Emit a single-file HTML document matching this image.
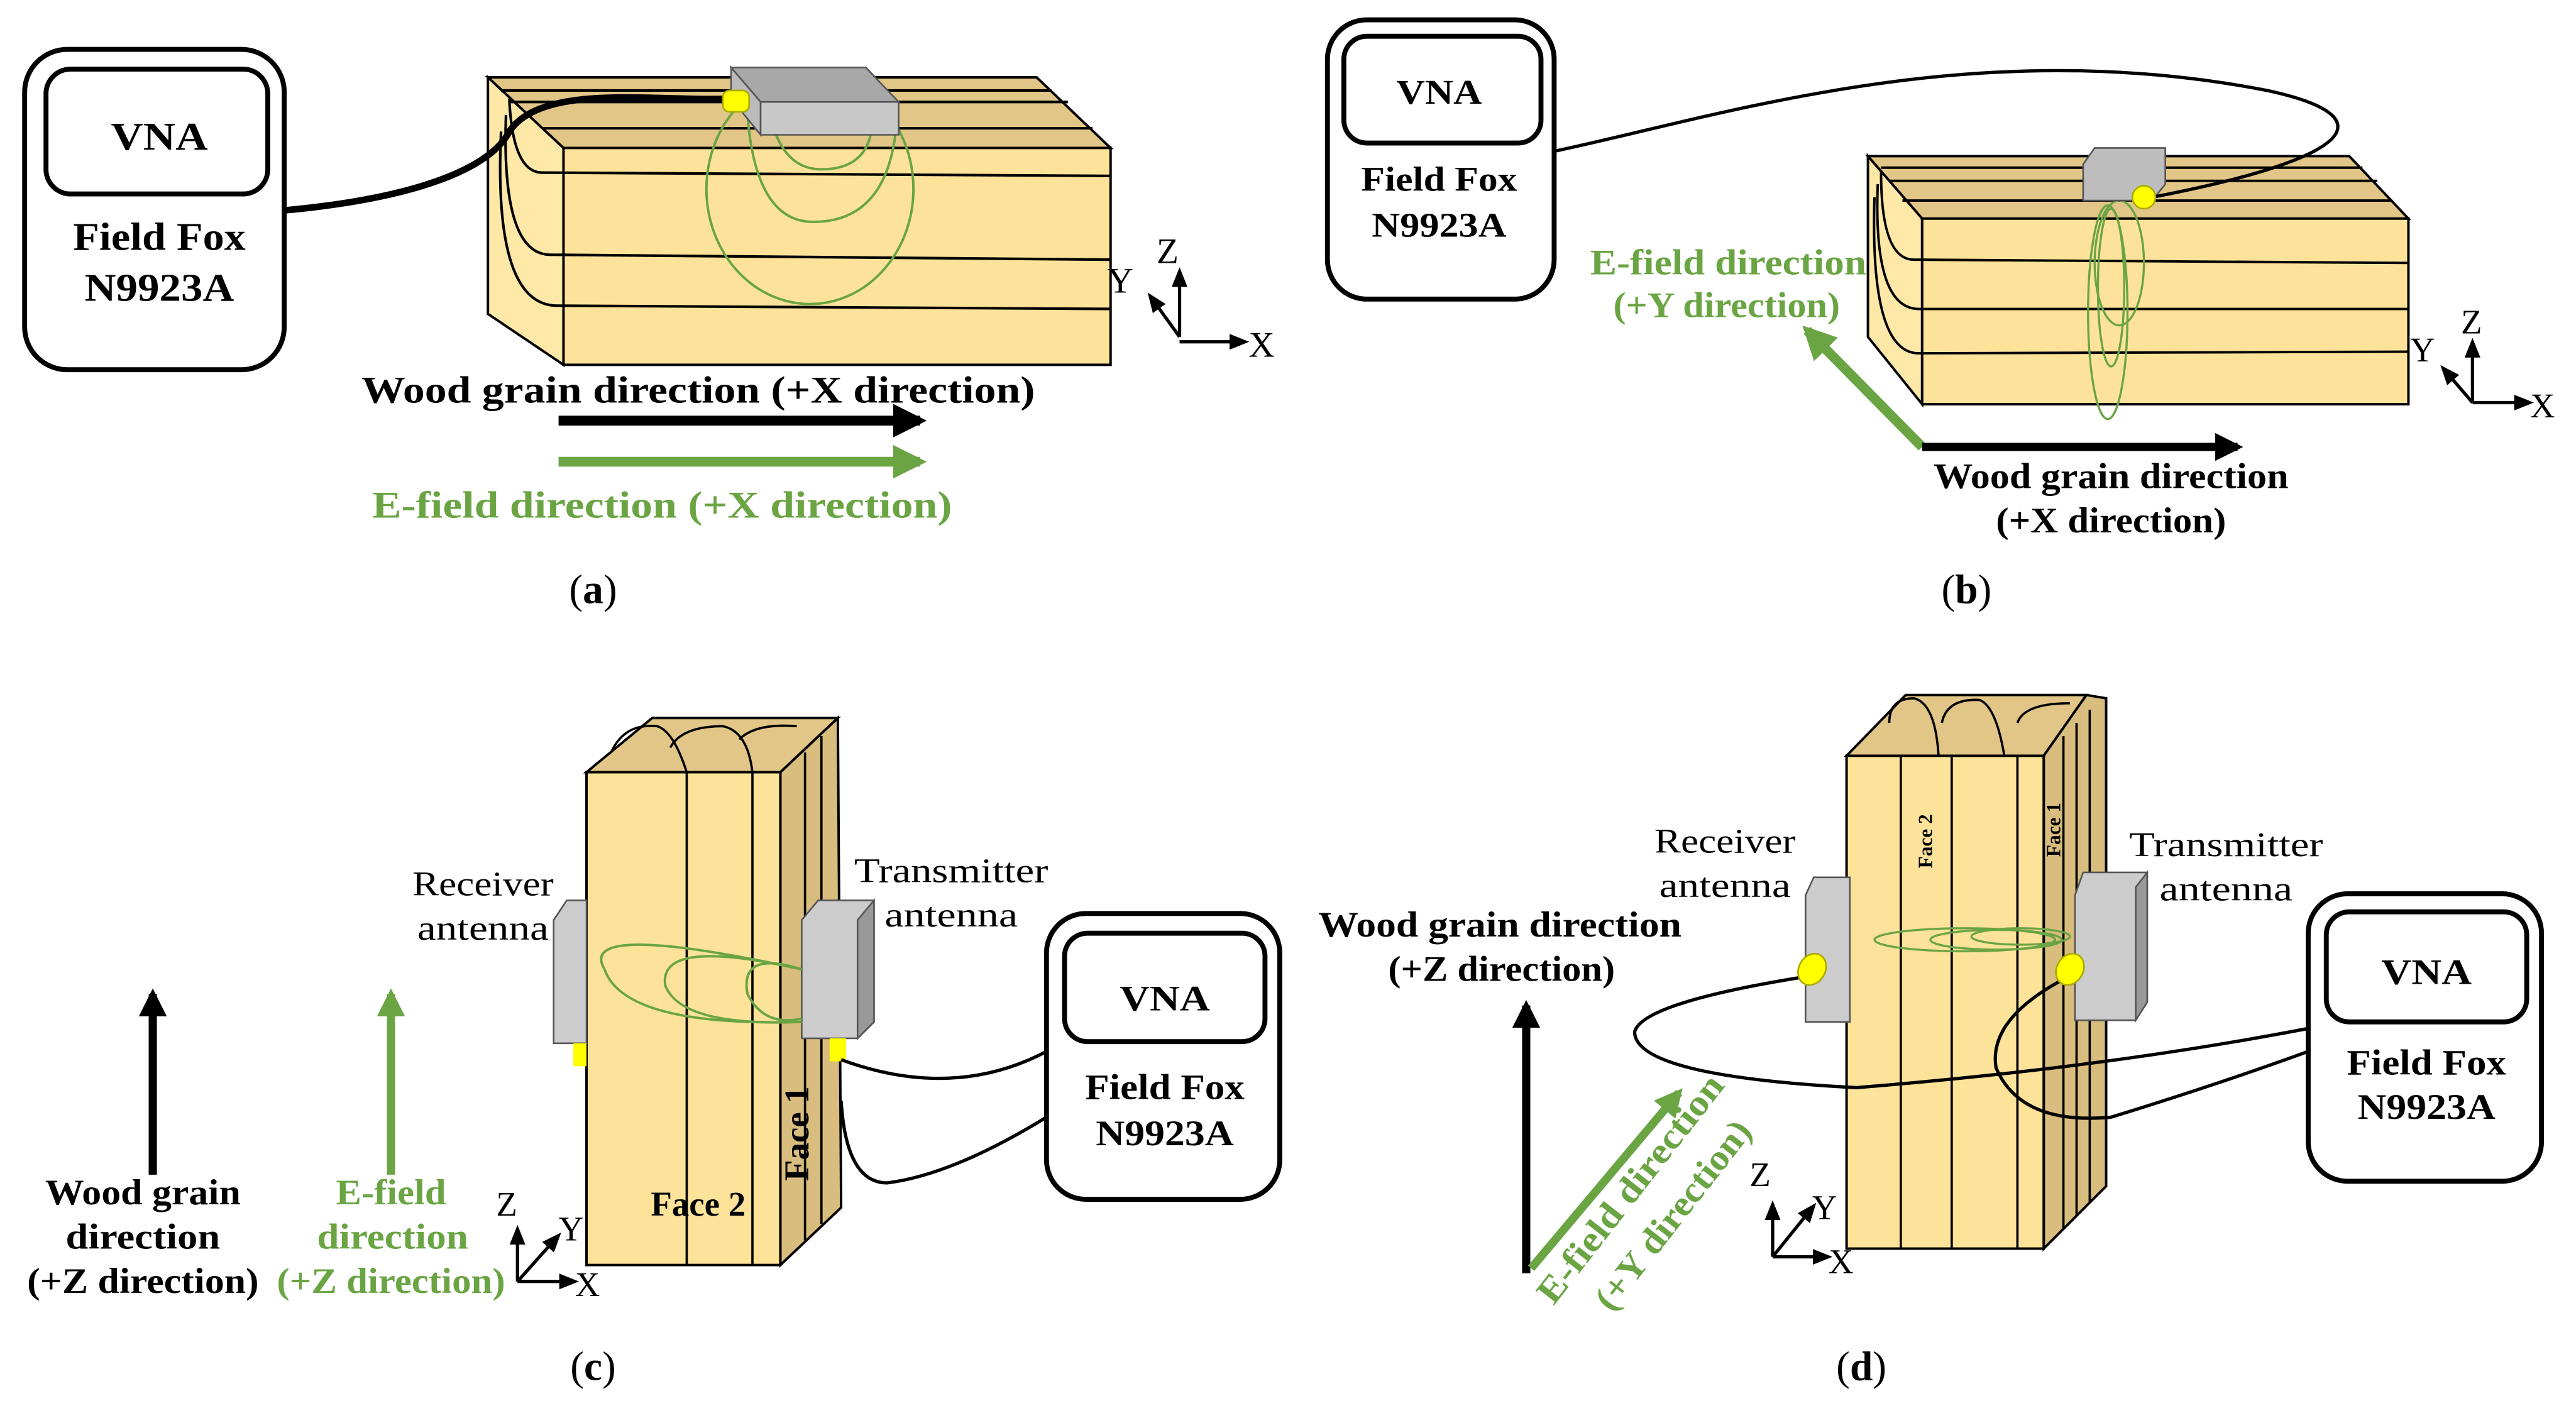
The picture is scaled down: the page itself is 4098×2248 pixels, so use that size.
<!DOCTYPE html>
<html><head><meta charset="utf-8"><style>html,body{margin:0;padding:0;background:#fff}svg{display:block}</style></head><body>
<svg width="4098" height="2248" viewBox="0 0 1568 860" xmlns="http://www.w3.org/2000/svg" font-family="Liberation Serif, serif">
<defs>
<marker id="ab" viewBox="0 0 10 10" refX="8" refY="5" markerWidth="3.4" markerHeight="3.4" orient="auto"><path d="M0,0L10,5L0,10z" fill="#000"/></marker>
<marker id="ag" viewBox="0 0 10 10" refX="8" refY="5" markerWidth="3.4" markerHeight="3.4" orient="auto"><path d="M0,0L10,5L0,10z" fill="#6aa443"/></marker>
<marker id="as" viewBox="0 0 10 10" refX="8" refY="5" markerWidth="6" markerHeight="6" orient="auto"><path d="M0,1L10,5L0,9z" fill="#000"/></marker>
</defs>
<g stroke="#000" stroke-width="3" fill="#fff">
<rect x="15" y="30" width="158" height="195" rx="26"/><rect x="28" y="42" width="135" height="76" rx="15"/>
<rect x="808" y="12" width="138" height="170" rx="24"/><rect x="818" y="22" width="120" height="65" rx="14"/>
<rect x="637" y="556" width="142" height="174" rx="24"/><rect x="648" y="568" width="122" height="66" rx="14"/>
<rect x="1405" y="544" width="142" height="175" rx="24"/><rect x="1416" y="555" width="122" height="67" rx="14"/>
</g>
<g font-weight="bold" font-size="24" text-anchor="middle" lengthAdjust="spacingAndGlyphs">
<text x="97" y="91" textLength="59" lengthAdjust="spacingAndGlyphs">VNA</text><text x="97" y="152" textLength="105" lengthAdjust="spacingAndGlyphs">Field Fox</text><text x="97" y="183" textLength="91" lengthAdjust="spacingAndGlyphs">N9923A</text>
<text x="876" y="63" font-size="21" textLength="52" lengthAdjust="spacingAndGlyphs">VNA</text><text x="876" y="116" font-size="21" textLength="95" lengthAdjust="spacingAndGlyphs">Field Fox</text><text x="876" y="144" font-size="21" textLength="82" lengthAdjust="spacingAndGlyphs">N9923A</text>
<text x="709" y="615" font-size="22" textLength="55" lengthAdjust="spacingAndGlyphs">VNA</text><text x="709" y="669" font-size="22" textLength="97" lengthAdjust="spacingAndGlyphs">Field Fox</text><text x="709" y="697" font-size="22" textLength="84" lengthAdjust="spacingAndGlyphs">N9923A</text>
<text x="1477" y="599" font-size="22" textLength="55" lengthAdjust="spacingAndGlyphs">VNA</text><text x="1477" y="654" font-size="22" textLength="97" lengthAdjust="spacingAndGlyphs">Field Fox</text><text x="1477" y="681" font-size="22" textLength="84" lengthAdjust="spacingAndGlyphs">N9923A</text>
</g>
<!-- panel a block -->
<g stroke="#000" stroke-width="1.5">
<polygon points="297,47 631,47 676,90 343,90" fill="#e2c687"/>
<polygon points="297,47 343,90 343,222 297,191" fill="#fde8a8"/>
<rect x="343" y="90" width="333" height="132" fill="#fde39a"/>
</g>
<g stroke="#000" stroke-width="1.6" fill="none">
<path d="M305,55 L640,55 M310,62 L650,62 M330,78 L665,78"/>
<path d="M310,60 Q312,105 330,105 L676,107"/><path d="M308,70 Q305,155 335,155 L676,158"/><path d="M305,80 Q300,187 340,186 L676,188"/>
</g>
<g stroke="#6aa443" stroke-width="1.5" fill="none">
<ellipse cx="493" cy="115" rx="63" ry="70"/><path d="M455,70 Q460,135 495,135 Q538,135 545,82"/><path d="M470,75 Q478,103 500,103 Q525,103 530,82"/>
</g>
<polygon points="445,41 527,41 547,62 463,62" fill="#a8a8a8" stroke="#555"/>
<polygon points="445,41 463,62 463,82 445,60" fill="#bbb" stroke="#555"/>
<polygon points="463,62 547,62 547,82 463,82" fill="#c8c8c8" stroke="#555"/>
<path d="M173,128 C260,120 300,100 310,80 C330,50 400,62 445,60" stroke="#000" stroke-width="4" fill="none"/>
<rect x="440" y="55" width="16" height="13" rx="4" fill="#ff0" stroke="#aa0"/>
<g stroke="#000" stroke-width="2" fill="none"><path d="M718,205 V165" marker-end="url(#as)"/><path d="M718,205 L700,180" marker-end="url(#as)"/><path d="M718,208 H758" marker-end="url(#as)"/></g>
<g font-size="22"><text x="674" y="178">Y</text><text x="704" y="160">Z</text><text x="760" y="217">X</text></g>
<text x="425" y="245" font-size="23" font-weight="bold" text-anchor="middle" textLength="410" lengthAdjust="spacingAndGlyphs">Wood grain direction (+X direction)</text>
<path d="M340,256 H560" stroke="#000" stroke-width="6" marker-end="url(#ab)"/>
<path d="M340,281 H560" stroke="#6aa443" stroke-width="6" marker-end="url(#ag)"/>
<text x="403" y="315" font-size="23" font-weight="bold" fill="#6aa443" text-anchor="middle" textLength="353" lengthAdjust="spacingAndGlyphs">E-field direction (+X direction)</text>
<text x="361" y="367" font-size="25" text-anchor="middle">(<tspan font-weight="bold">a</tspan>)</text>
<!-- panel b -->
<g stroke="#000" stroke-width="1.5">
<polygon points="1137,95 1430,95 1466,133 1170,133" fill="#e2c687"/>
<polygon points="1137,95 1170,133 1170,246 1137,205" fill="#fde8a8"/>
<rect x="1170" y="133" width="296" height="113" fill="#fde39a"/>
</g>
<g stroke="#000" stroke-width="1.5" fill="none">
<path d="M1145,102 H1438 M1150,110 H1447 M1158,122 H1456"/>
<path d="M1145,105 Q1145,158 1165,158 L1466,160"/><path d="M1143,112 Q1140,188 1168,188 L1466,188"/><path d="M1141,120 Q1138,215 1168,215 L1466,214"/>
</g>
<g stroke="#6aa443" stroke-width="1.3" fill="none"><ellipse cx="1283" cy="190" rx="12" ry="65"/><ellipse cx="1285" cy="175" rx="8" ry="48"/><ellipse cx="1290" cy="160" rx="15" ry="38"/></g>
<polygon points="1268,100 1275,90 1318,90 1318,112 1310,122 1268,122" fill="#bdbdbd" stroke="#555"/>
<path d="M946,92 C1050,70 1200,20 1380,55 C1450,70 1440,95 1310,120" stroke="#000" stroke-width="2" fill="none"/>
<circle cx="1305" cy="120" r="7" fill="#ff0" stroke="#aa0"/>
<path d="M1170,272 L1100,201" stroke="#6aa443" stroke-width="6" marker-end="url(#ag)"/>
<path d="M1170,272 H1362" stroke="#000" stroke-width="5" marker-end="url(#ab)"/>
<g font-size="22" font-weight="bold" text-anchor="middle" fill="#6aa443"><text x="1052" y="167" textLength="168" lengthAdjust="spacingAndGlyphs">E-field direction</text><text x="1051" y="193" textLength="138" lengthAdjust="spacingAndGlyphs">(+Y direction)</text></g>
<g font-size="22" font-weight="bold" text-anchor="middle"><text x="1285" y="297" textLength="216" lengthAdjust="spacingAndGlyphs">Wood grain direction</text><text x="1285" y="324" textLength="140" lengthAdjust="spacingAndGlyphs">(+X direction)</text></g>
<g stroke="#000" stroke-width="2" fill="none"><path d="M1505,245 V208" marker-end="url(#as)"/><path d="M1505,245 L1487,224" marker-end="url(#as)"/><path d="M1505,245 H1540" marker-end="url(#as)"/></g>
<g font-size="21"><text x="1467" y="220">Y</text><text x="1498" y="203">Z</text><text x="1540" y="254">X</text></g>
<text x="1197" y="367" font-size="25" text-anchor="middle">(<tspan font-weight="bold">b</tspan>)</text>
<!-- panel c -->
<g stroke="#000" stroke-width="1.5">
<polygon points="357,470 397,437 510,437 475,470" fill="#e2c687"/>
<polygon points="475,470 510,437 512,735 475,770" fill="#d9bd7e"/>
<rect x="357" y="470" width="118" height="300" fill="#fde39a"/>
</g>
<g stroke="#000" stroke-width="1.4" fill="none">
<path d="M418,470 V770 M458,470 V770 M490,458 V755 M500,448 V745"/>
<path d="M372,458 Q380,440 400,442 Q410,445 418,470"/><path d="M408,455 Q415,442 440,442 Q455,445 458,470"/><path d="M450,450 Q460,440 485,442"/>
</g>
<polygon points="337,560 345,548 357,548 357,635 337,635" fill="#ccc" stroke="#555"/>
<rect x="349" y="635" width="8" height="14" fill="#ff0"/>
<polygon points="488,560 498,548 532,548 532,622 522,632 488,632" fill="#ccc" stroke="#555"/>
<polygon points="522,560 532,548 532,622 522,632" fill="#999" stroke="#555"/>
<rect x="505" y="632" width="10" height="14" fill="#ff0"/>
<g stroke="#6aa443" stroke-width="1.5" fill="none"><path d="M488,590 Q350,560 368,590 Q380,625 488,622"/><path d="M488,590 Q400,570 405,600 Q415,625 488,622"/><path d="M488,590 Q450,578 455,605 Q465,625 488,620"/></g>
<path d="M512,645 Q580,670 637,640" stroke="#000" stroke-width="2" fill="none"/>
<path d="M512,670 Q515,720 540,720 Q580,715 637,680" stroke="#000" stroke-width="2" fill="none"/>
<text x="425" y="740" font-size="21" font-weight="bold" text-anchor="middle">Face 2</text>
<text transform="translate(492,690) rotate(-90)" font-size="21" font-weight="bold" text-anchor="middle">Face 1</text>
<g font-size="21" text-anchor="middle"><text x="294" y="545" textLength="86" lengthAdjust="spacingAndGlyphs">Receiver</text><text x="294" y="572" textLength="80" lengthAdjust="spacingAndGlyphs">antenna</text><text x="579" y="537" textLength="118" lengthAdjust="spacingAndGlyphs">Transmitter</text><text x="579" y="564" textLength="81" lengthAdjust="spacingAndGlyphs">antenna</text></g>
<path d="M93,715 V605" stroke="#000" stroke-width="5" marker-end="url(#ab)"/>
<path d="M238,715 V605" stroke="#6aa443" stroke-width="5" marker-end="url(#ag)"/>
<g font-size="22" font-weight="bold" text-anchor="middle"><text x="87" y="733" textLength="119" lengthAdjust="spacingAndGlyphs">Wood grain</text><text x="87" y="760" textLength="94" lengthAdjust="spacingAndGlyphs">direction</text><text x="87" y="787" textLength="141" lengthAdjust="spacingAndGlyphs">(+Z direction)</text></g>
<g font-size="22" font-weight="bold" text-anchor="middle" fill="#6aa443"><text x="238" y="733" textLength="67" lengthAdjust="spacingAndGlyphs">E-field</text><text x="239" y="760" textLength="92" lengthAdjust="spacingAndGlyphs">direction</text><text x="238" y="787" textLength="139" lengthAdjust="spacingAndGlyphs">(+Z direction)</text></g>
<g stroke="#000" stroke-width="2" fill="none"><path d="M315,780 V748" marker-end="url(#as)"/><path d="M315,780 L340,752" marker-end="url(#as)"/><path d="M315,780 H350" marker-end="url(#as)"/></g>
<g font-size="21"><text x="302" y="740">Z</text><text x="340" y="755">Y</text><text x="350" y="789">X</text></g>
<text x="361" y="840" font-size="25" text-anchor="middle">(<tspan font-weight="bold">c</tspan>)</text>
<!-- panel d -->
<g stroke="#000" stroke-width="1.5">
<polygon points="1124,460 1160,423 1270,423 1244,460" fill="#e2c687"/>
<polygon points="1244,460 1270,423 1282,425 1282,722 1244,760" fill="#d9bd7e"/>
<rect x="1124" y="460" width="120" height="300" fill="#fde39a"/>
</g>
<g stroke="#000" stroke-width="1.4" fill="none">
<path d="M1157,460 V760 M1188,460 V760 M1228,460 V760 M1256,448 V748 M1264,440 V740 M1272,432 V732"/>
<path d="M1150,440 Q1150,425 1165,425 Q1178,428 1180,460"/><path d="M1182,440 Q1185,425 1205,426 Q1215,430 1220,460"/><path d="M1228,440 Q1232,428 1260,428"/>
</g>
<text transform="translate(1176,512) rotate(-90)" font-size="12" font-weight="bold" text-anchor="middle">Face 2</text>
<text transform="translate(1254,505) rotate(-90)" font-size="12" font-weight="bold" text-anchor="middle">Face 1</text>
<polygon points="1099,545 1104,534 1126,534 1126,622 1099,622" fill="#ccc" stroke="#555"/>
<polygon points="1263,545 1268,531 1307,531 1307,610 1300,621 1263,621" fill="#ccc" stroke="#555"/>
<polygon points="1300,540 1307,531 1307,610 1300,621" fill="#999" stroke="#555"/>
<g stroke="#6aa443" stroke-width="1.3" fill="none"><ellipse cx="1196" cy="572" rx="55" ry="7"/><ellipse cx="1215" cy="572" rx="40" ry="6"/><ellipse cx="1230" cy="570" rx="30" ry="5"/></g>
<path d="M1102,594 Q1000,610 995,628 Q995,655 1130,662 Q1280,650 1405,626" stroke="#000" stroke-width="2" fill="none"/>
<path d="M1258,595 Q1210,620 1215,650 Q1230,685 1285,680 Q1350,660 1405,640" stroke="#000" stroke-width="2" fill="none"/>
<g fill="#ff0" stroke="#aa0"><ellipse cx="1103" cy="590" rx="8" ry="10" transform="rotate(30 1103 590)"/><ellipse cx="1260" cy="590" rx="8" ry="10" transform="rotate(30 1260 590)"/></g>
<g font-size="21" text-anchor="middle"><text x="1050" y="519" textLength="86" lengthAdjust="spacingAndGlyphs">Receiver</text><text x="1050" y="546" textLength="80" lengthAdjust="spacingAndGlyphs">antenna</text><text x="1355" y="521" textLength="118" lengthAdjust="spacingAndGlyphs">Transmitter</text><text x="1355" y="548" textLength="81" lengthAdjust="spacingAndGlyphs">antenna</text></g>
<g font-size="22" font-weight="bold" text-anchor="middle"><text x="913" y="570" textLength="221" lengthAdjust="spacingAndGlyphs">Wood grain direction</text><text x="914" y="597" textLength="138" lengthAdjust="spacingAndGlyphs">(+Z direction)</text></g>
<path d="M929,775 V612" stroke="#000" stroke-width="5" marker-end="url(#ab)"/>
<path d="M932,772 L1022,665" stroke="#6aa443" stroke-width="5" marker-end="url(#ag)"/>
<g font-size="22" font-weight="bold" text-anchor="middle" fill="#6aa443"><text transform="translate(998,728) rotate(-52)" textLength="170" lengthAdjust="spacingAndGlyphs">E-field direction</text><text transform="translate(1024,744) rotate(-52)" textLength="140" lengthAdjust="spacingAndGlyphs">(+Y direction)</text></g>
<g stroke="#000" stroke-width="2" fill="none"><path d="M1079,765 V733" marker-end="url(#as)"/><path d="M1079,765 L1104,734" marker-end="url(#as)"/><path d="M1079,765 H1113" marker-end="url(#as)"/></g>
<g font-size="21"><text x="1065" y="722">Z</text><text x="1103" y="742">Y</text><text x="1113" y="775">X</text></g>
<text x="1133" y="840" font-size="25" text-anchor="middle">(<tspan font-weight="bold">d</tspan>)</text>
</svg>
</body></html>
